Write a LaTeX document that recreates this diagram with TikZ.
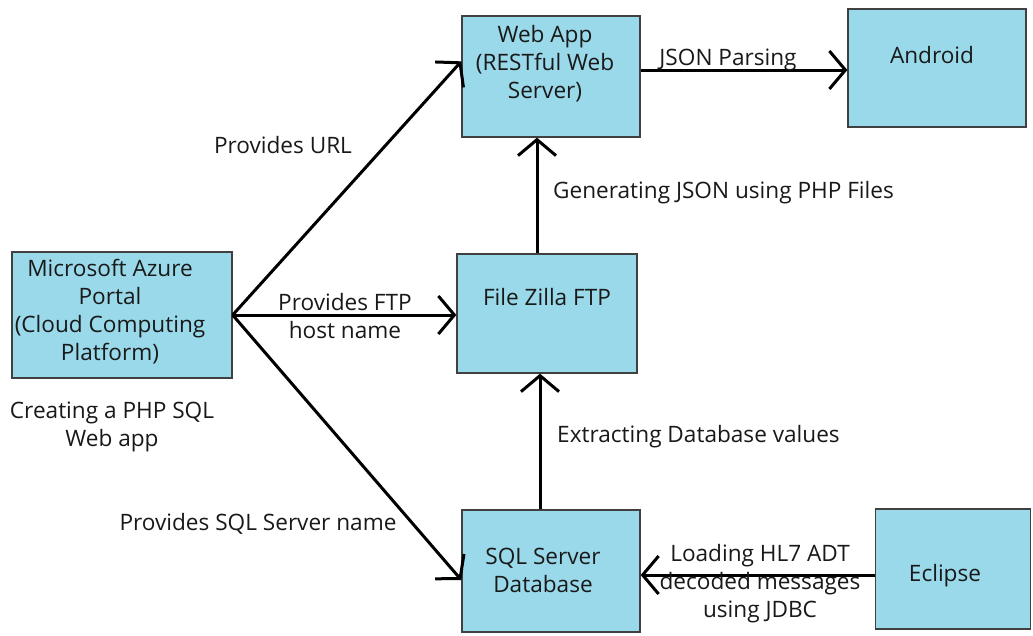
\documentclass[tikz,border=0pt]{standalone}
\usepackage{fontspec}
\setmainfont{Open Sans}
\usetikzlibrary{arrows.meta,calc}
\definecolor{paint}{HTML}{99D9EA}
\definecolor{edgegray}{HTML}{404040}
\begin{document}
\begin{tikzpicture}[x=1pt,y=-1pt,
  box/.style={draw=edgegray,line width=1.3pt,fill=paint,inner sep=0pt},
  txt/.style={font=\fontsize{22.6}{28}\selectfont,align=center,inner sep=0pt,text=black!90},
  arr/.style={line width=3pt,-{Straight Barb[length=16pt,width=38pt,line width=3pt]}}]
\useasboundingbox (0,0) rectangle (1033,635);
\fill[white] (0,0) rectangle (1033,635);
% boxes
\node[box,minimum width=178pt,minimum height=121pt] (webapp) at (551,76.5) {};
\node[box,minimum width=178pt,minimum height=118pt] (android) at (937,68) {};
\node[box,minimum width=220pt,minimum height=126pt] (azure) at (122,315) {};
\node[box,minimum width=180pt,minimum height=119pt] (fz) at (547,313.5) {};
\node[box,minimum width=178pt,minimum height=122pt] (sql) at (551,571) {};
\node[box,minimum width=155pt,minimum height=120pt] (eclipse) at (953,569) {};
% box texts
\node[txt] (t1) at (545,64) {Web App\\(RESTful Web\\Server)};
\node[txt] (t2) at (932,55) {Android};
\node[txt] (t3) at (110,312) {Microsoft Azure\\Portal\\(Cloud Computing\\Platform)};
\node[txt] (t4) at (547,297) {File Zilla FTP};
\node[txt] (t5) at (543,570) {SQL Server\\Database};
\node[txt] (t6) at (945,576) {Eclipse};
% connectors
\draw[arr] (azure.east) -- ($(webapp.north west)+(0,46)$);
\draw[arr] (azure.east) -- (azure.east -| fz.west);
\draw[arr] (azure.east) -- ($(sql.west)+(0,9)$);
\draw[arr] ([xshift=-10pt]fz.north) -- ([xshift=-10pt]fz.north |- webapp.south);
\draw[arr] ([xshift=-11pt]sql.north) -- ([xshift=-11pt]sql.north |- fz.south);
\draw[arr] ([yshift=6.5pt]webapp.east) -- ([yshift=6.5pt]webapp.east -| android.west);
\draw[arr] ([yshift=-6pt]eclipse.west) -- ([yshift=-6pt]eclipse.west -| sql.east);
% labels
\node[txt] (l1) at (283,145) {Provides URL};
\node[txt] (l2) at (345,316) {Provides FTP\\host name};
\node[txt] (l3) at (258,524) {Provides SQL Server name};
\node[txt] (l4) at (112,427) {Creating a PHP SQL\\Web app};
\node[txt,anchor=west] (l5) at (553,193) {Generating JSON using PHP Files};
\node[txt,anchor=west] (l6) at (557,437) {Extracting Database values};
\node[txt] (l7) at (728,60) {JSON Parsing};
\node[txt] (l8) at (760,584) {Loading HL7 ADT\\decoded messages\\using JDBC};
\end{tikzpicture}
\end{document}
